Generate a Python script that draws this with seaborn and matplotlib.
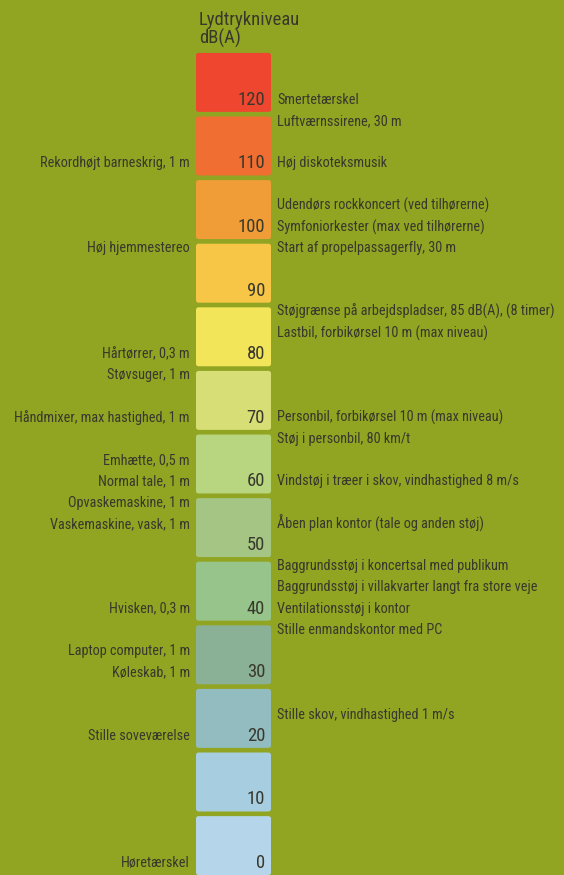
import matplotlib
matplotlib.use("Agg")
import matplotlib.pyplot as plt
import seaborn as sns
from matplotlib.patches import FancyBboxPatch
from matplotlib import font_manager

sns.set_theme(style="white")

# ---- data ----
levels = [0, 10, 20, 30, 40, 50, 60, 70, 80, 90, 100, 110, 120]
level_colors = ["#b5d6ea", "#a6cde0", "#92bcc0", "#8ab095", "#96c48a", "#a4c584",
                "#b8d67f", "#d6de75", "#f3e55a", "#f8c647", "#f09d38", "#f06e32", "#ef4630"]

left_labels = ["Rekordhøjt barneskrig, 1 m", "Høj hjemmestereo", "Hårtørrer, 0,3 m",
               "Støvsuger, 1 m", "Håndmixer, max hastighed, 1 m", "Emhætte, 0,5 m",
               "Normal tale, 1 m", "Opvaskemaskine, 1 m", "Vaskemaskine, vask, 1 m",
               "Hvisken, 0,3 m", "Laptop computer, 1 m", "Køleskab, 1 m",
               "Stille soveværelse", "Høretærskel"]
left_db = [110, 96.67, 80, 76.67, 70, 63.33, 60, 56.67, 53.33, 40, 33.33, 30, 20, 0]

right_labels = ["Smertetærskel", "Luftværnssirene, 30 m", "Høj diskoteksmusik",
                "Udendørs rockkoncert (ved tilhørerne)", "Symfoniorkester (max ved tilhørerne)",
                "Start af propelpassagerfly, 30 m",
                "Støjgrænse på arbejdspladser, 85 dB(A), (8 timer)",
                "Lastbil, forbikørsel 10 m (max niveau)",
                "Personbil, forbikørsel 10 m (max niveau)", "Støj i personbil, 80 km/t",
                "Vindstøj i træer i skov, vindhastighed 8 m/s",
                "Åben plan kontor (tale og anden støj)",
                "Baggrundsstøj i koncertsal med publikum",
                "Baggrundsstøj i villakvarter langt fra store veje",
                "Ventilationsstøj i kontor", "Stille enmandskontor med PC",
                "Stille skov, vindhastighed 1 m/s"]
right_db = [120, 116.67, 110, 103.33, 100, 96.67, 86.67, 83.33, 70, 66.67, 60, 53.33,
            46.67, 43.33, 40, 36.67, 23.33]

title = "Lydtrykniveau\ndB(A)"

# ---- font choice ----
names = {f.name for f in font_manager.fontManager.ttflist}
cands = ["Roboto Condensed", "Liberation Sans Narrow", "DejaVu Sans Condensed",
         "Open Sans Condensed", "Roboto", "DejaVu Sans"]
fam = [c for c in cands if c in names] + ["DejaVu Sans"]
plt.rcParams["font.family"] = fam

BG = "#91a523"
TXT = "#38382c"

fig = plt.figure(figsize=(5.64, 8.75), dpi=100)
fig.patch.set_facecolor(BG)
ax = fig.add_axes([0, 0, 1, 1])
ax.set_facecolor(BG)
ax.set_xlim(0, 564)
ax.set_ylim(-1.887, 135.69)
ax.axis("off")

px_per_db = 6.36
for v, c in zip(levels, level_colors):
    p = FancyBboxPatch((196, v - 1.9), 75, 9.27,
                       boxstyle="round,pad=0,rounding_size=2.5",
                       mutation_aspect=1 / px_per_db,
                       facecolor=c, edgecolor="none")
    ax.add_patch(p)
    ax.text(265, v, str(v), ha="right", va="center", fontsize=13.4, color=TXT)

for t, d in zip(left_labels, left_db):
    ax.text(190, d, t, ha="right", va="center", fontsize=10.25, color=TXT)
for t, d in zip(right_labels, right_db):
    ax.text(277, d, t, ha="left", va="center", fontsize=10.25, color=TXT)

ax.text(199, 134.0, title, ha="left", va="top", fontsize=13.4, color=TXT,
        linespacing=1.0)

fig.savefig("out.png", dpi=100, facecolor=BG)
